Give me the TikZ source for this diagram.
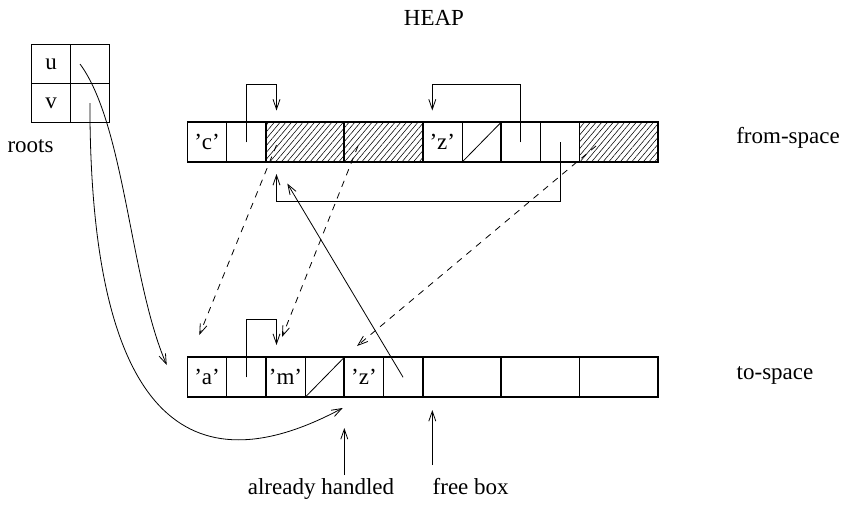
\documentclass[tikz,border=0pt]{standalone}
\usepackage{fontspec}
\setmainfont{Liberation Serif}
\usetikzlibrary{arrows.meta,patterns.meta,calc}

\begin{document}
\begin{tikzpicture}[x=1pt,y=-1pt,
  font=\fontsize{23}{27}\selectfont,
  cell/.style={draw,line width=0.8pt,minimum width=39.2pt,minimum height=40pt,inner sep=0pt,outer sep=0pt},
  frame/.style={draw,line width=1.8pt,minimum width=78.4pt,minimum height=40pt,inner sep=0pt,outer sep=0pt},
  hatched/.style={frame,pattern={Lines[angle=50,distance=4.4pt,line width=0.55pt]},pattern color=black},
  rootcell/.style={draw,line width=0.8pt,minimum width=38.7pt,minimum height=39pt,inner sep=0pt,outer sep=0pt},
  ptr/.style={line width=0.8pt,-{Straight Barb[length=10pt,width=7pt]}},
  fwd/.style={ptr,dash pattern=on 6.5pt off 6pt},
  lbl/.style={inner sep=0pt,anchor=base}]

\useasboundingbox (0,0) rectangle (845,504);

% ---- root table ----
\node[rootcell] (ru) at (51.2,64.2) {u};
\node[rootcell] (rup) at (89.9,64.2) {};
\node[rootcell] (rv) at (51.2,103.2) {v};
\node[rootcell] (rvp) at (89.9,103.2) {};
\node[lbl] (roots) at (30.5,152) {roots};

% ---- from-space cells ----
\node[cell] (f1a) at (207.1,142.3) {’c’};
\node[cell] (f1b) at (246.3,142.3) {};
\node[cell] (f4a) at (442.3,142.3) {’z’};
\node[cell] (f4b) at (481.5,142.3) {};
\node[cell] (f5a) at (520.7,142.3) {};
\node[cell] (f5b) at (559.9,142.3) {};
\draw[line width=0.8pt] (f4b.south west) -- (f4b.north east);
% from-space box frames
\node[frame]   (fb1) at (226.7,142.3) {};
\node[hatched] (fb2) at (305.1,142.3) {};
\node[hatched] (fb3) at (383.5,142.3) {};
\node[frame]   (fb4) at (461.9,142.3) {};
\node[frame]   (fb5) at (540.3,142.3) {};
\node[hatched] (fb6) at (618.7,142.3) {};

% ---- to-space cells ----
\node[cell] (t1a) at (207.1,377.3) {’a’};
\node[cell] (t1b) at (246.3,377.3) {};
\node[cell] (t2a) at (285.5,377.3) {’m’};
\node[cell] (t2b) at (324.7,377.3) {};
\node[cell] (t3a) at (363.9,377.3) {’z’};
\node[cell] (t3b) at (403.1,377.3) {};
\draw[line width=0.8pt] (t2b.south west) -- (t2b.north east);
% to-space box frames
\node[frame] (tb1) at (226.7,377.3) {};
\node[frame] (tb2) at (305.1,377.3) {};
\node[frame] (tb3) at (383.5,377.3) {};
\node[frame] (tb4) at (461.9,377.3) {};
\node[frame] (tb5) at (540.3,377.3) {};
\node[frame] (tb6) at (618.7,377.3) {};

% ---- labels ----
\node[lbl] (heap) at (434,25) {HEAP};
\node[lbl] (from) at (788,143) {from-space};
\node[lbl] (to) at (775,379) {to-space};
\node[lbl] (handled) at (321,494) {already handled};
\node[lbl] (free) at (470.7,494) {free box};

% ---- pointer ends ----
\coordinate (ustart) at (80,64);
\coordinate (t1in) at (166.7,365);
\coordinate (hand) at (342.7,408);
\coordinate (f2top) at (276.5,110.5);
\coordinate (f4top) at (432.3,110.5);
\coordinate (f2bot) at (276.5,174);
\coordinate (f2low) at (287.3,183.5);
\coordinate (t2top) at (276.5,345);
\coordinate (f2fw) at (276.5,145);
\coordinate (f3fw) at (358,146);
\coordinate (f6fw) at (596,146);
\coordinate (t1top) at (199.3,335);
\coordinate (t2dash) at (282,337);
\coordinate (t3dash) at (357,346);
\coordinate (hfoot) at (344.3,475);
\coordinate (hhead) at (344.3,428);
\coordinate (ffoot) at (432.3,465);
\coordinate (fhead) at (432.3,410);

% ---- pointers ----
\draw[ptr] (f1b.center) |- (276.5,84) -- (f2top);
\draw[ptr] (f5a.center) |- (432.3,84) -- (f4top);
\draw[ptr] (f5b.center) |- (276.5,201.5) -- (f2bot);
\draw[ptr] (t1b.center) |- (276.5,319) -- (t2top);
\draw[ptr] (t3b.center) -- (f2low);

% forwarding pointers
\draw[fwd] (f2fw) -- (t1top);
\draw[fwd] (f3fw) -- (t2dash);
\draw[fwd] (f6fw) -- (t3dash);

% roots
\draw[ptr] (ustart) .. controls (125,125) and (130,280) .. (t1in);
\draw[ptr] (rvp.center) .. controls (90,420) and (190,490) .. (hand);

% scan and free markers
\draw[ptr] (hfoot) -- (hhead);
\draw[ptr] (ffoot) -- (fhead);
\end{tikzpicture}
\end{document}
